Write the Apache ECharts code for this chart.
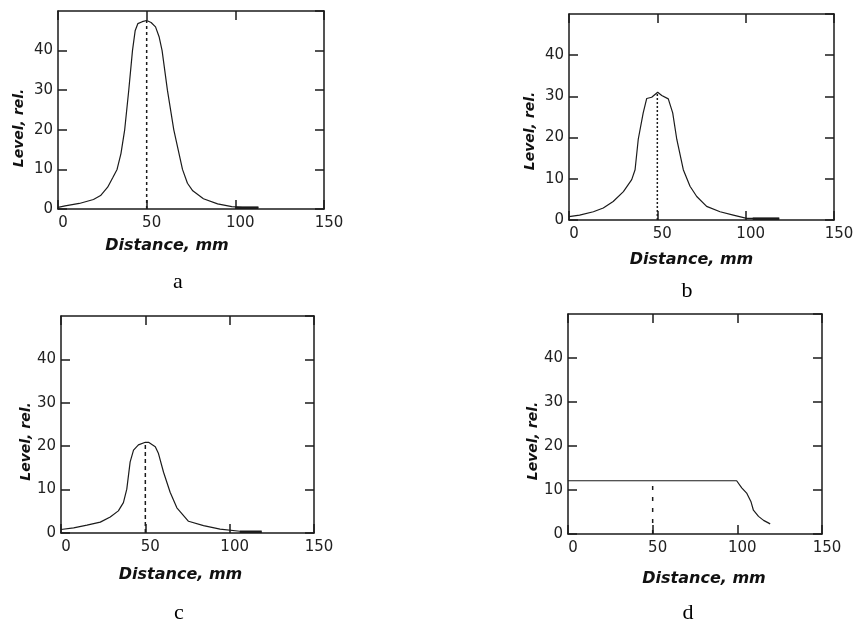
<!DOCTYPE html>
<html>
<head>
<meta charset="utf-8">
<script src="https://cdn.jsdelivr.net/npm/echarts@6/dist/echarts.min.js"></script>
<style>
  html, body { margin: 0; padding: 0; background: #fff; }
  #chart { width: 856px; height: 622px; }
</style>
</head>
<body>
<div id="chart"></div>
<script>
// axis ranges
var xMin = 0, xMax = 150, xStep = 50;
var yMin = 0, yMax = 50, yStep = 10;
var xTitle = 'Distance, mm';
var yTitle = 'Level, rel.';
var panelNames = ['a', 'b', 'c', 'd'];

// position of the dashed marker and the level where it stops
var markerX = 50;
var markerTop = [47.6, 31, 20.9, 12.1];

// measured profiles [distance, level]
var curveA = [[0,0.4],[4,0.8],[12,1.4],[20,2.4],[24,3.4],[28,5.5],[31,8.0],[33.3,10],[35.5,14],[37.6,20],
  [39.9,30],[42,40],[43.5,45],[45,46.8],[47.5,47.3],[50,47.6],[52.5,47.1],[55,46],[57,43.5],[58.7,40],
  [61.7,30],[65.3,20],[70.2,10],[73,6.5],[76,4.6],[82,2.6],[90,1.3],[98,0.6],[104,0.4],[113,0.4]];
var curveB = [[0,0.8],[6,1.2],[13.8,2],[19.4,2.9],[25,4.5],[30.8,6.9],[35.5,9.8],[37.4,12.2],[39.2,19.6],
  [42,26],[44,29.5],[46.8,29.8],[50.2,31],[52.5,30.2],[56.2,29.4],[58.7,26],[61,19.6],[64.7,12.2],
  [68.5,8.2],[72.3,5.7],[77.9,3.3],[85.5,2],[93,1.2],[100.6,0.4],[119,0.4]];
var curveC = [[0,0.8],[7.5,1.2],[15.4,1.8],[23.3,2.5],[29.2,3.7],[34,5.1],[37,7],[39,10.1],[41,16.4],
  [43,19.1],[45.9,20.3],[50,20.9],[51.9,20.9],[55.9,19.9],[57.8,18.3],[60.8,14],[64.7,9.4],[68.7,5.8],
  [75.6,2.7],[84.5,1.7],[94.3,0.9],[106,0.4],[119,0.2]];
var curveD = [[0,12.1],[99.6,12.1],[102.6,10.5],[105.5,9.3],[108,7.4],[109.5,5.4],[112.5,4],[115.5,3.1],[119.4,2.3]];
var curves = [curveA, curveB, curveC, curveD];

// short heavy stretch lying on the baseline
var tailA = [[100,0.3],[113,0.3]];
var tailB = [[104,0.3],[119,0.3]];
var tailC = [[106,0.3],[119,0.3]];
var tails = [tailA, tailB, tailC, []];

// layout (pixels)
var boxes = [
  {left: 58,  top: 11,  width: 266, height: 198},
  {left: 569, top: 14,  width: 265, height: 206},
  {left: 61,  top: 316, width: 253, height: 217},
  {left: 568, top: 314, width: 254, height: 220}
];
var xNameGap = [29, 32, 34, 37];
var xNamePad = [[0,48,0,0],[0,20,0,0],[0,14,0,0],[0,0,0,18]];
var yNameGap = [32, 32, 28, 28];
var yNamePad = [[0,36,0,0],[0,28,0,0],[0,34,0,0],[0,34,0,0]];
var letterPos = [[173, 266], [682, 275], [174, 597], [683, 597]];
var dashTypes = [[3,3],[2,2],[4,3],[4,7]];

var ink = '#1b1b1b';
var frame = {show: true, onZero: false, lineStyle: {color: ink, width: 1.5}};
var ticks = {show: true, inside: true, length: 9, lineStyle: {color: ink, width: 1.5}};
var tickFont = {color: '#222', fontFamily: 'DejaVu Sans', fontSize: 15};
var nameFont = {color: '#111', fontFamily: 'DejaVu Sans', fontWeight: 'bold', fontStyle: 'italic'};

var grids = [], xAxes = [], yAxes = [], series = [], titles = [];

boxes.forEach(function (b, i) {
  grids.push({left: b.left, top: b.top, width: b.width, height: b.height,
    show: false, outerBoundsMode: 'none'});

  xAxes.push({
    type: 'value', gridIndex: i, min: xMin, max: xMax, interval: xStep, position: 'bottom',
    axisLine: frame, axisTick: ticks, splitLine: {show: false},
    axisLabel: Object.assign({margin: 7, padding: [0,0,0,10]}, tickFont),
    name: xTitle, nameLocation: 'middle', nameGap: xNameGap[i],
    nameTextStyle: Object.assign({fontSize: 16, padding: xNamePad[i]}, nameFont)
  });
  xAxes.push({
    type: 'value', gridIndex: i, min: xMin, max: xMax, interval: xStep, position: 'top',
    axisLine: frame, axisTick: ticks, splitLine: {show: false}, axisLabel: {show: false}
  });

  yAxes.push({
    type: 'value', gridIndex: i, min: yMin, max: yMax, interval: yStep, position: 'left',
    axisLine: frame, axisTick: ticks, splitLine: {show: false},
    axisLabel: Object.assign({margin: 5, showMaxLabel: false}, tickFont),
    name: yTitle, nameLocation: 'middle', nameGap: yNameGap[i],
    nameTextStyle: Object.assign({fontSize: 14, padding: yNamePad[i]}, nameFont)
  });
  yAxes.push({
    type: 'value', gridIndex: i, min: yMin, max: yMax, interval: yStep, position: 'right',
    axisLine: frame, axisTick: ticks, splitLine: {show: false}, axisLabel: {show: false}
  });

  series.push({
    type: 'line', xAxisIndex: 2 * i, yAxisIndex: 2 * i, data: curves[i],
    showSymbol: false, lineStyle: {color: ink, width: 1.2}
  });
  series.push({
    type: 'line', xAxisIndex: 2 * i, yAxisIndex: 2 * i,
    data: [[markerX, yMin], [markerX, markerTop[i]]],
    showSymbol: false, lineStyle: {color: ink, width: 1.5, type: dashTypes[i]}
  });
  if (tails[i].length) {
    series.push({
      type: 'line', xAxisIndex: 2 * i, yAxisIndex: 2 * i, data: tails[i],
      showSymbol: false, lineStyle: {color: ink, width: 2.5}
    });
  }

  titles.push({
    text: panelNames[i], left: letterPos[i][0], top: letterPos[i][1], textAlign: 'center',
    textStyle: {fontFamily: 'Liberation Serif', fontWeight: 'normal', fontSize: 22, color: '#000'}
  });
});

var myChart = echarts.init(document.getElementById('chart'));
myChart.setOption({
  backgroundColor: '#fff',
  animation: false,
  title: titles,
  grid: grids,
  xAxis: xAxes,
  yAxis: yAxes,
  series: series
});
</script>
</body>
</html>
